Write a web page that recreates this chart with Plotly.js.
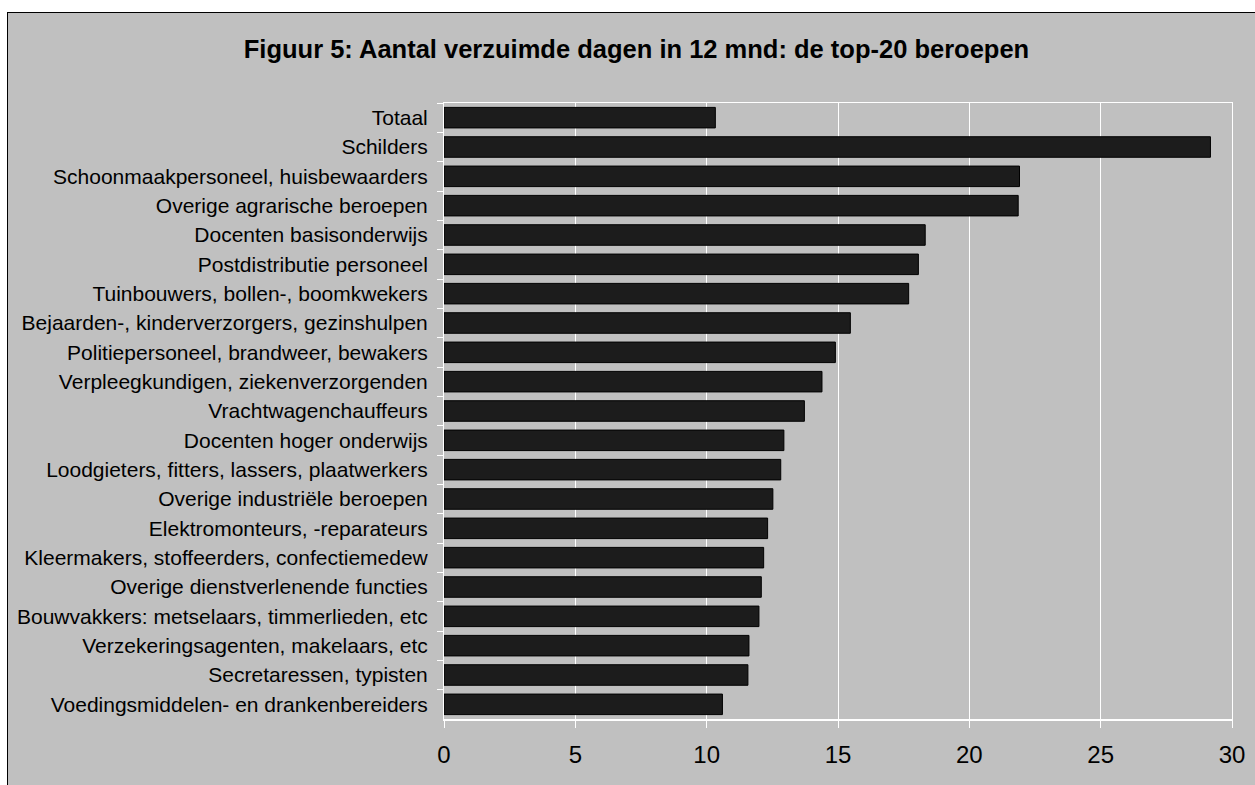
<!DOCTYPE html>
<html>
<head>
<meta charset="utf-8">
<script src="https://cdn.plot.ly/plotly-3.0.1.min.js"></script>
<style>
  html, body { margin: 0; padding: 0; background: #ffffff; }
  #chart {
    position: absolute; left: 7px; top: 12px;
    width: 1247px; height: 772px;
    border-left: 1px solid #000000; border-top: 1px solid #000000;
    background: #C0C0C0;
  }
</style>
</head>
<body>
<div id="chart"></div>
<script>
const chartTitle = "Figuur 5: Aantal verzuimde dagen in 12 mnd: de top-20 beroepen";

const beroepen = [
  "Totaal",
  "Schilders",
  "Schoonmaakpersoneel, huisbewaarders",
  "Overige agrarische beroepen",
  "Docenten basisonderwijs",
  "Postdistributie personeel",
  "Tuinbouwers, bollen-, boomkwekers",
  "Bejaarden-, kinderverzorgers, gezinshulpen",
  "Politiepersoneel, brandweer, bewakers",
  "Verpleegkundigen, ziekenverzorgenden",
  "Vrachtwagenchauffeurs",
  "Docenten hoger onderwijs",
  "Loodgieters, fitters, lassers, plaatwerkers",
  "Overige industriële beroepen",
  "Elektromonteurs, -reparateurs",
  "Kleermakers, stoffeerders, confectiemedew",
  "Overige dienstverlenende functies",
  "Bouwvakkers: metselaars, timmerlieden, etc",
  "Verzekeringsagenten, makelaars, etc",
  "Secretaressen, typisten",
  "Voedingsmiddelen- en drankenbereiders"
];

const verzuimdeDagen = [
  10.33, 29.18, 21.91, 21.86, 18.32, 18.06, 17.69, 15.47, 14.90, 14.39,
  13.72, 12.94, 12.82, 12.52, 12.32, 12.17, 12.08, 11.99, 11.61, 11.57, 10.60
];

const xTickVals = [0, 5, 10, 15, 20, 25, 30];

const font = "Liberation Sans, Arial, Helvetica, sans-serif";

const trace = {
  type: "bar",
  orientation: "h",
  x: verzuimdeDagen,
  y: beroepen,
  marker: { color: "#1C1C1C", line: { color: "#000000", width: 1 } },
  hoverinfo: "x+y"
};

const layout = {
  width: 1247,
  height: 772,
  paper_bgcolor: "#C0C0C0",
  plot_bgcolor: "#C0C0C0",
  margin: { l: 436, r: 23, t: 90, b: 66 },
  font: { family: font, color: "#000000" },
  title: {
    text: "<b>" + chartTitle + "</b>",
    font: { family: font, size: 25.5, color: "#000000" },
    x: 0.504, xanchor: "center", xref: "container",
    y: 0.953, yanchor: "middle", yref: "container"
  },
  bargap: 0.3,
  showlegend: false,
  xaxis: {
    range: [0, 30],
    tickvals: xTickVals,
    ticktext: xTickVals.map(String),
    showgrid: true,
    gridcolor: "#FFFFFF",
    gridwidth: 1,
    zeroline: false,
    showline: true,
    linecolor: "#FFFFFF",
    linewidth: 1.5,
    mirror: true,
    ticks: "outside",
    ticklen: 7,
    tickcolor: "#FFFFFF",
    tickwidth: 1,
    ticklabelstandoff: 7,
    tickfont: { family: font, size: 24, color: "#000000" },
    fixedrange: true
  },
  yaxis: {
    type: "category",
    categoryorder: "array",
    categoryarray: beroepen,
    autorange: "reversed",
    showgrid: false,
    zeroline: false,
    showline: true,
    linecolor: "#FFFFFF",
    linewidth: 1,
    mirror: true,
    ticks: "outside",
    tickson: "boundaries",
    ticklen: 6,
    tickcolor: "#FFFFFF",
    tickwidth: 1,
    ticklabelstandoff: 11,
    tickfont: { family: font, size: 21, color: "#000000" },
    fixedrange: true
  }
};

Plotly.newPlot("chart", [trace], layout, { displayModeBar: false, staticPlot: true });
</script>
</body>
</html>
